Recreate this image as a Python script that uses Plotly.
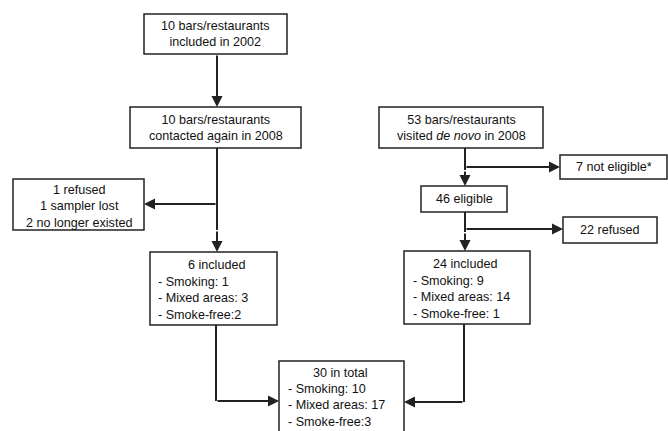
import plotly.graph_objects as go

# ---- data ----
included_2002 = 10
contacted_2008 = 10
lost_labels = ["refused", "sampler lost", "no longer existed"]
lost_counts = [1, 1, 2]
visited_new = 53
not_eligible = 7
eligible = 46
refused_new = 22
categories = ["Smoking", "Mixed areas", "Smoke-free"]
old_counts = [1, 3, 2]
new_counts = [9, 14, 1]
total_counts = [10, 17, 3]
old_included = 6
new_included = 24
total_included = 30

# ---- layout (pixel coordinates) ----
W, H = 668, 431
FONT = dict(family="Liberation Sans, Arial, sans-serif", size=12.6, color="#111111")
LINE = "#222222"

boxes = {
    "A": (144, 287, 14, 54),
    "B": (130, 301, 107, 148),
    "C": (13, 144, 179, 230),
    "D": (150, 277, 252, 325),
    "E": (279, 404, 361, 434),
    "F": (379, 543, 107, 148),
    "G": (560, 667, 155, 179),
    "H": (421, 507, 186, 212),
    "I": (563, 657, 217, 243),
    "J": (404, 530, 251, 324),
}

fig = go.Figure()
shapes = []
annotations = []

for k, (x0, x1, y0, y1) in boxes.items():
    shapes.append(dict(type="rect", xref="x", yref="y", x0=x0, x1=x1, y0=y0, y1=y1,
                       line=dict(color=LINE, width=1.5), fillcolor="white", layer="below"))

def text(x, y, s, anchor="center", align="center"):
    annotations.append(dict(x=x, y=y, xref="x", yref="y", text=s, showarrow=False,
                            xanchor=anchor, yanchor="middle", align=align, font=FONT))

def seg(x0, y0, x1, y1):
    shapes.append(dict(type="line", xref="x", yref="y", x0=x0, y0=y0, x1=x1, y1=y1,
                       line=dict(color=LINE, width=2)))

def arrow(x0, y0, x1, y1):
    annotations.append(dict(x=x1, y=y1, ax=x0, ay=y0, xref="x", yref="y", axref="x", ayref="y",
                            text="", showarrow=True, arrowhead=2, arrowsize=1.1, arrowwidth=2,
                            arrowcolor=LINE, standoff=0, startstandoff=0))

# texts
text(215.5, 34, f"{included_2002} bars/restaurants<br>included in 2002")
text(215.5, 128, f"{contacted_2008} bars/restaurants<br>contacted again in 2008")
text(78.5, 206, "<br>".join(f"{c} {l}" for c, l in zip(lost_counts, lost_labels)))
text(461, 128, f"{visited_new} bars/restaurants<br>visited <i>de novo</i> in 2008")
text(613.5, 167, f"{not_eligible} not eligible*")
text(464, 199, f"{eligible} eligible")
text(610, 230, f"{refused_new} refused")

old_seps = [": ", ": ", ":"]
new_seps = [": ", ": ", ": "]
tot_seps = [": ", ": ", ":"]

text(216, 265, f"{old_included} included")
text(156, 298, "<br>".join(f"- {c}{s}{v}" for c, s, v in zip(categories, old_seps, old_counts)),
     anchor="left", align="left")
text(465, 264, f"{new_included} included")
text(411, 297, "<br>".join(f"- {c}{s}{v}" for c, s, v in zip(categories, new_seps, new_counts)),
     anchor="left", align="left")
text(340, 373, f"{total_included} in total")
text(286, 405, "<br>".join(f"- {c}{s}{v}" for c, s, v in zip(categories, tot_seps, total_counts)),
     anchor="left", align="left")

# connectors
arrow(217, 54, 217, 107)
seg(217, 148, 217, 230)
arrow(217, 230, 217, 252)
arrow(217, 204, 144, 204)
seg(465, 148, 465, 170)
arrow(465, 170, 465, 186)
arrow(465, 167, 560, 167)
seg(465, 212, 465, 232)
arrow(465, 232, 465, 251)
arrow(465, 229, 563, 229)
seg(216, 325, 216, 401)
arrow(216, 401, 279, 401)
seg(464, 324, 464, 402)
arrow(464, 402, 404, 402)

fig.update_layout(
    width=W, height=H, margin=dict(l=0, r=0, t=0, b=0),
    paper_bgcolor="white", plot_bgcolor="white", showlegend=False,
    xaxis=dict(range=[0, W], visible=False, fixedrange=True),
    yaxis=dict(range=[H, 0], visible=False, fixedrange=True),
    shapes=shapes, annotations=annotations,
)
fig.write_html("out.html", config={"displayModeBar": False},
               post_script="document.body.style.margin='0';document.body.style.overflow='hidden';")
